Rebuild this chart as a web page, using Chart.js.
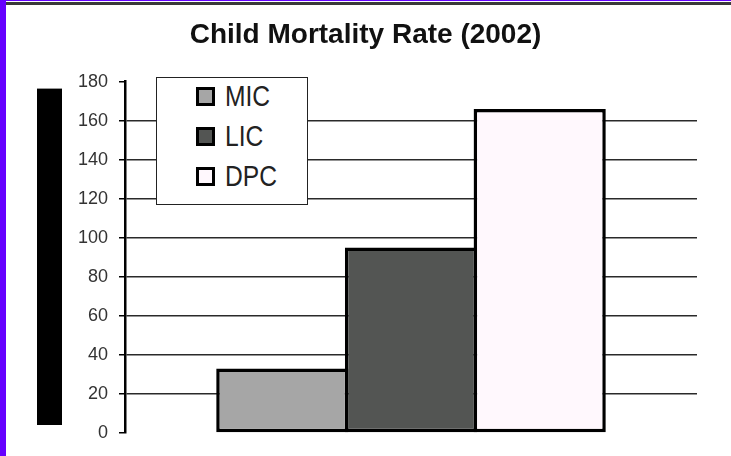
<!DOCTYPE html>
<html>
<head>
<meta charset="utf-8">
<script src="https://cdn.jsdelivr.net/npm/chart.js@4.4.1/dist/chart.umd.min.js"></script>
<style>
  html, body { margin: 0; padding: 0; background: #fff; }
  #wrap { position: relative; width: 731px; height: 456px; overflow: hidden; }
  #bar { position: absolute; left: 0; top: 0; }
  .edgeLeft { position: absolute; left: 0; top: 0; width: 6px; height: 456px; background: #6600ff; }
  .edgeTop { position: absolute; left: 0; top: 0; width: 731px; height: 1px; background: #6600ff; }
  .edgeTop2 { position: absolute; left: 0; top: 2px; width: 731px; height: 3px; background: #3a3a3a; }
  #legend { position: absolute; left: 156px; top: 77px; width: 150px; height: 126px;
            border: 1.5px solid #222; background: #fff; }
  #legend .row { display: flex; align-items: center; height: 40px; padding-left: 39px; }
  #legend .row:first-child { margin-top: -2px; }
  #legend .sw { width: 13px; height: 13px; border: 3px solid #000; margin-right: 10px; flex: none; }
  #legend .tx { display: inline-block; transform: scaleX(0.82); transform-origin: left center;
                font-family: "Liberation Sans", Arial, sans-serif;
                font-size: 30px; color: #222; line-height: 30px; white-space: nowrap; }
</style>
</head>
<body>
<div id="wrap">
  <canvas id="bar" width="731" height="456"></canvas>
  <div id="legend"></div>
  <div class="edgeTop"></div>
  <div class="edgeTop2"></div>
  <div class="edgeLeft"></div>
</div>
<script>
// one group, three country groups as series
const labels = [''];
const seriesNames = ['MIC', 'LIC', 'DPC'];
const seriesValues = [[33], [95], [166]];
const seriesColors = ['#a6a6a6', '#535553', '#fff8fd'];
const yTicks = [0, 20, 40, 60, 80, 100, 120, 140, 160, 180];

const datasets = seriesNames.map(function (name, i) {
    return {
        label: name,
        data: seriesValues[i],
        backgroundColor: seriesColors[i],
        borderColor: '#000',
        borderWidth: 3.5,
        borderSkipped: false,
        categoryPercentage: 0.675,
        barPercentage: 1.027
    };
});

// black block left of the axis
const sideBlock = {
    id: 'sideBlock',
    afterDraw(chart) {
        const a = chart.chartArea;
        const ctx = chart.ctx;
        ctx.save();
        ctx.fillStyle = '#000';
        ctx.fillRect(a.left - 88, a.top + 7, 25, a.bottom - a.top - 15);
        ctx.restore();
    }
};

const bg = {
    id: 'bg',
    beforeDraw(chart) {
        const ctx = chart.ctx;
        ctx.save();
        ctx.fillStyle = '#fff';
        ctx.fillRect(0, 0, chart.width, chart.height);
        ctx.restore();
    }
};

const config = {
    type: 'bar',
    data: { labels: labels, datasets: datasets },
    options: {
        responsive: false,
        animation: false,
        layout: { padding: { left: 0, right: 0, top: 0, bottom: 23 } },
        plugins: {
            legend: { display: false },
            tooltip: { enabled: false },
            title: {
                display: true,
                text: 'Child Mortality Rate (2002)',
                color: '#111',
                font: { family: '"Liberation Sans", Arial, sans-serif', size: 28, weight: 'bold' },
                padding: { top: 18, bottom: 30 }
            }
        },
        scales: {
            x: { display: false },
            y: {
                min: 0,
                max: 180,
                afterBuildTicks(scale) {
                    scale.ticks = yTicks.map(function (v) { return { value: v }; });
                },
                afterFit(scale) { scale.width = 125; },
                ticks: {
                    color: '#333',
                    padding: 11,
                    font: { family: '"Liberation Sans", Arial, sans-serif', size: 18 }
                },
                grid: {
                    color: function (c) {
                        const v = c.tick ? c.tick.value : null;
                        return (v === 0 || v === 180) ? 'rgba(0,0,0,0)' : '#2a2a2a';
                    },
                    lineWidth: 1.5,
                    tickColor: '#000',
                    tickLength: 6,
                    tickWidth: 1.5
                },
                border: { color: '#000', width: 2.5 }
            },
            // empty right margin so the title centres on the whole page
            yRight: {
                position: 'right',
                display: true,
                afterFit(scale) { scale.width = 34; },
                ticks: { display: false },
                grid: { display: false },
                border: { display: false }
            }
        }
    },
    plugins: [bg, sideBlock]
};

const bar = new Chart(document.getElementById('bar'), config);

// legend box drawn as html, built from the chart's datasets
const legendBox = document.getElementById('legend');
bar.data.datasets.forEach(function (ds) {
    const row = document.createElement('div');
    row.className = 'row';
    const sw = document.createElement('span');
    sw.className = 'sw';
    sw.style.background = ds.backgroundColor;
    const tx = document.createElement('span');
    tx.className = 'tx';
    tx.textContent = ds.label;
    row.appendChild(sw);
    row.appendChild(tx);
    legendBox.appendChild(row);
});
</script>
</body>
</html>
